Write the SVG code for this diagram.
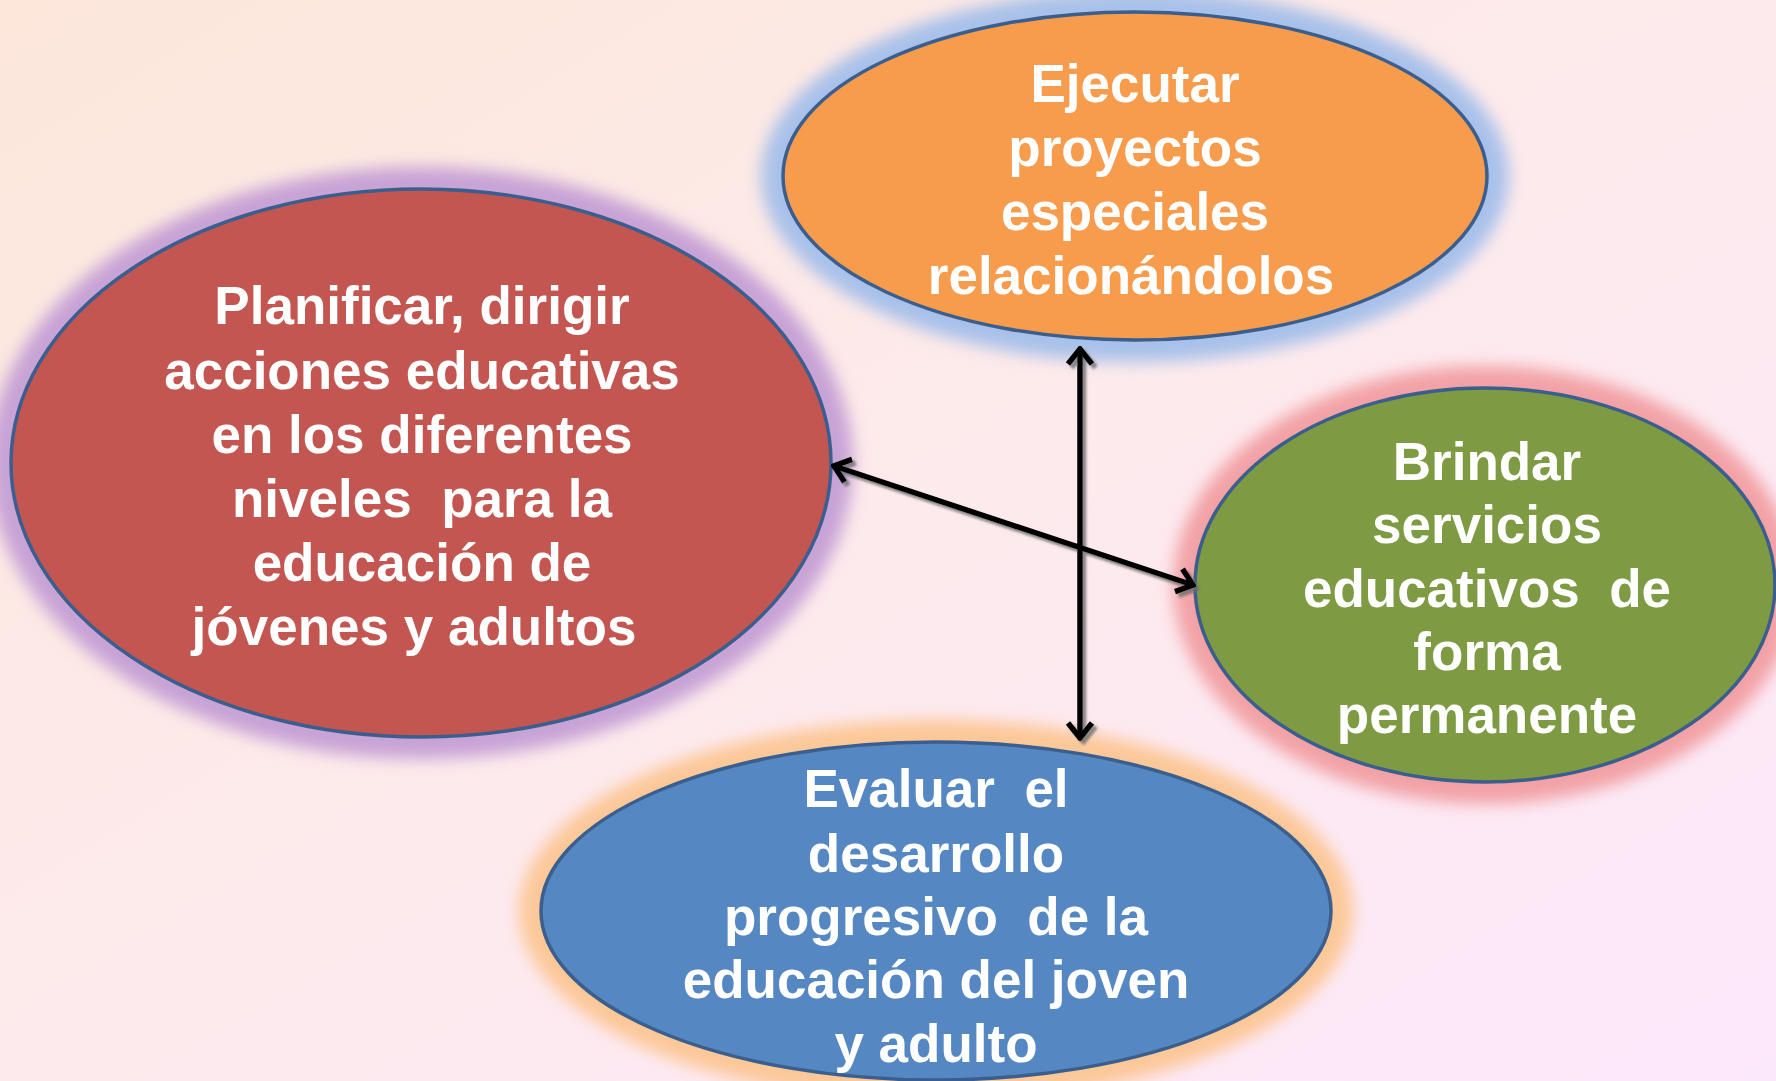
<svg xmlns="http://www.w3.org/2000/svg" width="1776" height="1081" viewBox="0 0 1776 1081">
  <defs>
    <linearGradient id="bg" x1="0" y1="0" x2="1" y2="1">
      <stop offset="0" stop-color="#fde7db"/>
      <stop offset="0.5" stop-color="#fdeaec"/>
      <stop offset="1" stop-color="#fce8fb"/>
    </linearGradient>
    <filter id="glow" x="-20%" y="-20%" width="140%" height="140%">
      <feGaussianBlur stdDeviation="8"/>
    </filter>
    <filter id="shadow" x="-10%" y="-10%" width="120%" height="120%">
      <feDropShadow dx="3.5" dy="3.5" stdDeviation="1" flood-color="#6d6d6d" flood-opacity="0.8"/>
    </filter>
    <marker id="arr" viewBox="-3 -3 22 32" refX="16" refY="13" markerWidth="22" markerHeight="32" markerUnits="userSpaceOnUse" orient="auto-start-reverse">
      <path d="M1,1 L16,13 L1,25" fill="none" stroke="#000" stroke-width="5.5"/>
    </marker>
  </defs>
  <style>
    .node { stroke: #3a5f8e; stroke-width: 3.5; }
    .lbl { font-family: "Liberation Sans", Arial, sans-serif; font-weight: bold; font-size: 53px; fill: #ffffff; text-anchor: middle; white-space: pre; }
    .conn { fill: none; stroke: #000; stroke-width: 5.5; }
  </style>
  <rect width="1776" height="1081" fill="url(#bg)"/>

  <g id="node-ejecutar">
    <ellipse cx="1135" cy="176" rx="374" ry="186" fill="#a8c1ea" filter="url(#glow)"/>
    <ellipse class="node" cx="1135" cy="176" rx="352" ry="164" fill="#f79b4d"/>
    <text class="lbl" x="1135" y="102">Ejecutar</text>
    <text class="lbl" x="1135" y="166">proyectos</text>
    <text class="lbl" x="1135" y="230">especiales</text>
    <text class="lbl" x="1131" y="294">relacionándolos</text>
  </g>

  <g id="node-planificar">
    <ellipse cx="421" cy="463" rx="432" ry="296" fill="#c7a3d6" filter="url(#glow)"/>
    <ellipse class="node" cx="421" cy="463" rx="410" ry="274" fill="#c35651"/>
    <text class="lbl" x="422" y="324">Planificar, dirigir</text>
    <text class="lbl" x="422" y="389">acciones educativas</text>
    <text class="lbl" x="422" y="453">en los diferentes</text>
    <text class="lbl" x="422" y="517">niveles  para la</text>
    <text class="lbl" x="422" y="581">educación de</text>
    <text class="lbl" x="414" y="645">jóvenes y adultos</text>
  </g>

  <g id="node-brindar">
    <ellipse cx="1485" cy="585" rx="312" ry="219" fill="#f2a2a6" filter="url(#glow)"/>
    <ellipse class="node" cx="1485" cy="585" rx="290" ry="197" fill="#7e9a42"/>
    <text class="lbl" x="1487" y="480">Brindar</text>
    <text class="lbl" x="1487" y="543">servicios</text>
    <text class="lbl" x="1487" y="607">educativos  de</text>
    <text class="lbl" x="1487" y="670">forma</text>
    <text class="lbl" x="1487" y="733">permanente</text>
  </g>

  <g id="node-evaluar">
    <ellipse cx="936" cy="911" rx="417" ry="191" fill="#fcc898" filter="url(#glow)"/>
    <ellipse class="node" cx="936" cy="911" rx="395" ry="169" fill="#5588c2"/>
    <text class="lbl" x="936" y="807">Evaluar  el</text>
    <text class="lbl" x="936" y="872">desarrollo</text>
    <text class="lbl" x="936" y="935">progresivo  de la</text>
    <text class="lbl" x="936" y="998">educación del joven</text>
    <text class="lbl" x="936" y="1062">y adulto</text>
  </g>

  <g id="connectors" filter="url(#shadow)">
    <line class="conn" x1="1080" y1="349" x2="1080" y2="738" marker-start="url(#arr)" marker-end="url(#arr)"/>
    <line class="conn" x1="834" y1="466" x2="1193" y2="585" marker-start="url(#arr)" marker-end="url(#arr)"/>
  </g>
</svg>
